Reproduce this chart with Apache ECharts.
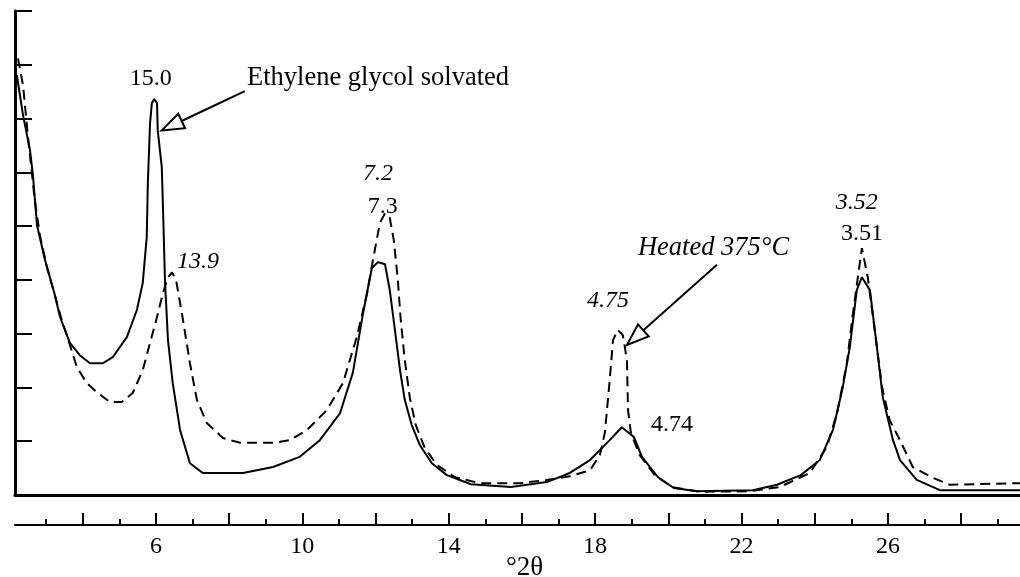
<!DOCTYPE html>
<html>
<head>
<meta charset="utf-8">
<script src="https://cdn.jsdelivr.net/npm/echarts@6/dist/echarts.min.js"></script>
<style>
html,body{margin:0;padding:0;background:#fff;}
#chart{width:1020px;height:577px;}
</style>
</head>
<body>
<div id="chart"></div>
<script>
// ---- Data (°2θ, relative intensity) ----
const solidName = 'Ethylene glycol solvated';
const dashedName = 'Heated 375°C';

const solidPoints = [
 [2.20,7.81],[2.37,7.06],[2.56,6.41],[2.64,5.95],[2.75,5.02],[2.97,4.37],[3.24,3.72],[3.38,3.31],
 [3.65,2.83],[3.92,2.60],[4.20,2.45],[4.55,2.45],[4.83,2.57],[5.21,2.94],[5.48,3.44],[5.64,3.94],
 [5.75,4.80],[5.78,5.80],[5.84,6.91],[5.89,7.29],[5.95,7.36],[6.03,7.29],[6.05,6.78],[6.16,6.10],
 [6.19,5.43],[6.25,3.94],[6.33,2.88],[6.46,2.08],[6.66,1.21],[6.93,0.59],[7.28,0.41],[8.38,0.41],
 [9.20,0.52],[9.93,0.71],[10.48,1.02],[11.03,1.52],[11.38,2.27],[11.66,3.38],[11.90,4.22],[12.07,4.33],
 [12.26,4.29],[12.39,3.81],[12.53,3.07],[12.67,2.32],[12.80,1.77],[12.99,1.30],[13.21,0.93],[13.54,0.59],
 [13.95,0.37],[14.61,0.20],[15.70,0.15],[16.68,0.24],[17.31,0.41],[17.86,0.65],[18.40,1.02],[18.73,1.26],
 [19.06,1.08],[19.28,0.71],[19.72,0.33],[20.15,0.13],[20.78,0.07],[22.31,0.09],[22.97,0.19],[23.62,0.37],
 [24.14,0.65],[24.50,1.21],[24.77,2.01],[24.96,2.75],[25.15,3.81],[25.29,4.05],[25.51,3.81],[25.70,2.75],
 [25.86,1.82],[26.14,1.02],[26.33,0.65],[26.79,0.28],[27.42,0.09],[29.61,0.09]
];

const dashedPoints = [
 [2.23,8.12],[2.37,7.62],[2.50,6.69],[2.69,5.48],[2.83,4.83],[3.02,4.24],[3.43,3.25],[3.65,2.79],
 [3.84,2.38],[4.11,2.08],[4.39,1.91],[4.74,1.73],[5.07,1.73],[5.37,1.90],[5.64,2.32],[5.84,2.83],
 [6.03,3.31],[6.19,3.75],[6.33,4.05],[6.44,4.14],[6.55,4.00],[6.71,3.38],[6.93,2.45],[7.12,1.77],
 [7.39,1.34],[7.83,1.06],[8.30,0.97],[9.20,0.97],[9.66,1.02],[10.13,1.21],[10.67,1.58],[11.11,2.08],
 [11.49,2.94],[11.77,3.75],[11.93,4.37],[12.12,5.06],[12.26,5.24],[12.39,5.15],[12.50,4.74],[12.61,4.00],
 [12.69,3.25],[12.80,2.51],[12.94,1.80],[13.10,1.30],[13.35,0.87],[13.68,0.56],[14.17,0.33],[14.85,0.22],
 [15.95,0.22],[16.68,0.28],[17.31,0.35],[17.86,0.46],[18.13,0.74],[18.27,1.17],[18.40,2.14],[18.49,2.88],
 [18.62,3.07],[18.76,2.97],[18.87,2.51],[18.90,1.58],[18.98,1.15],[19.22,0.74],[19.63,0.37],[20.10,0.15],
 [20.86,0.06],[22.23,0.07],[23.05,0.15],[23.87,0.41],[24.33,0.89],[24.61,1.52],[24.88,2.45],[25.02,3.25],
 [25.18,4.05],[25.29,4.59],[25.45,4.05],[25.64,3.07],[25.84,2.01],[26.05,1.39],[26.33,1.02],[26.68,0.52],
 [27.23,0.32],[27.69,0.19],[29.61,0.22]
];

// Peak d-spacing labels (Å)
const labelTexts  = ['15.0', '13.9', '7.2', '7.3', '4.75', '4.74', '3.52', '3.51'];
const labelX      = [5.86, 7.15, 12.07, 12.20, 18.35, 20.10, 25.15, 25.29];
const labelY      = [7.75, 4.33, 5.97, 5.37, 3.62, 1.30, 5.43, 4.85];
const labelItalic = [false, true, true, false, true, false, true, false];

// Series annotations
const noteTexts  = [solidName, dashedName];
const noteX      = [8.49, 19.17];
const noteY      = [7.75, 4.59];
const noteItalic = [false, true];

// Arrows: [from θ, from I, to θ, to I]
const arrows = [[8.43, 7.51, 6.16, 6.78], [21.33, 4.28, 18.87, 2.79]];

// Axis ticks
const xMin = 2.15, xMax = 29.61;
const majorTicks = [4, 6, 8, 10, 12, 14, 16, 18, 20, 22, 24, 26, 28];
const minorTicks = [3, 5, 7, 9, 11, 13, 15, 17, 19, 21, 23, 25, 27, 29];
const tickLabels = [6, 10, 14, 18, 22, 26];
const xTitle = '°2θ';

const FONT = 'Liberation Serif';

const chart = echarts.init(document.getElementById('chart'), null, {renderer: 'canvas'});

const labelData = labelTexts.map((t, i) => ({
  name: t, value: [labelX[i], labelY[i]],
  label: {fontStyle: labelItalic[i] ? 'italic' : 'normal'}
}));
const noteData = noteTexts.map((t, i) => ({
  name: t, value: [noteX[i], noteY[i]],
  label: {fontStyle: noteItalic[i] ? 'italic' : 'normal'}
}));

const baseAxis = {type: 'value', min: xMin, max: xMax, splitLine: {show: false}};

chart.setOption({
  animation: false,
  backgroundColor: '#fff',
  grid: {left: 15, right: 0, top: 11, bottom: 82, containLabel: false, outerBoundsMode: 'none'},
  xAxis: [
    Object.assign({}, baseAxis, {
      position: 'bottom',
      axisLine: {show: true, onZero: false, lineStyle: {color: '#000', width: 3}},
      axisTick: {show: false}, axisLabel: {show: false}
    }),
    Object.assign({}, baseAxis, {
      position: 'bottom', offset: 30,
      name: xTitle, nameLocation: 'middle', nameGap: 29, nameMoveOverlap: false,
      nameTextStyle: {fontFamily: FONT, fontSize: 27, color: '#000', padding: [0, 0, 0, 14]},
      axisLine: {show: true, onZero: false, lineStyle: {color: '#000', width: 2}},
      axisTick: {show: true, inside: true, length: 12, lineStyle: {color: '#000', width: 2}, customValues: majorTicks},
      axisLabel: {show: true, margin: 10, fontFamily: FONT, fontSize: 24, color: '#000', customValues: tickLabels}
    }),
    Object.assign({}, baseAxis, {
      position: 'bottom', offset: 30,
      axisLine: {show: false, onZero: false},
      axisTick: {show: true, inside: true, length: 6, lineStyle: {color: '#000', width: 2}, customValues: minorTicks},
      axisLabel: {show: false}
    })
  ],
  yAxis: {
    type: 'value', min: 0, max: 9, interval: 1,
    axisLine: {show: true, lineStyle: {color: '#000', width: 3}},
    axisTick: {show: true, inside: true, length: 17, lineStyle: {color: '#000', width: 2}},
    axisLabel: {show: false},
    splitLine: {show: false}
  },
  series: [
    {
      name: solidName, type: 'line', xAxisIndex: 0, data: solidPoints,
      showSymbol: false, smooth: false,
      lineStyle: {color: '#000', width: 2, type: 'solid'}, z: 3
    },
    {
      name: dashedName, type: 'line', xAxisIndex: 0, data: dashedPoints,
      showSymbol: false, smooth: false,
      lineStyle: {color: '#000', width: 2, type: [10, 6]}, z: 3
    },
    {
      type: 'scatter', xAxisIndex: 0, data: labelData, symbolSize: 0,
      itemStyle: {color: 'transparent'}, silent: true,
      label: {show: true, position: 'inside', formatter: '{b}', color: '#000', opacity: 1,
        textBorderWidth: 0, fontFamily: FONT, fontSize: 24, align: 'center', verticalAlign: 'middle'}
    },
    {
      type: 'scatter', xAxisIndex: 0, data: noteData, symbolSize: 0,
      itemStyle: {color: 'transparent'}, silent: true,
      label: {show: true, position: 'inside', formatter: '{b}', color: '#000', opacity: 1,
        textBorderWidth: 0, fontFamily: FONT, fontSize: 26.5, align: 'left', verticalAlign: 'middle'}
    },
    {
      type: 'custom', xAxisIndex: 0, data: arrows, silent: true, clip: false, z: 5,
      renderItem: function (params, api) {
        const p0 = api.coord([api.value(0), api.value(1)]);
        const p1 = api.coord([api.value(2), api.value(3)]);
        const dx = p1[0] - p0[0], dy = p1[1] - p0[1];
        const len = Math.sqrt(dx * dx + dy * dy);
        const ux = dx / len, uy = dy / len;
        const headLen = 22, half = 8;
        const bx = p1[0] - ux * headLen, by = p1[1] - uy * headLen;
        const nx = -uy, ny = ux;
        return {
          type: 'group',
          children: [
            {type: 'line', shape: {x1: p0[0], y1: p0[1], x2: bx, y2: by},
              style: {stroke: '#000', lineWidth: 2}},
            {type: 'polygon', shape: {points: [[p1[0], p1[1]], [bx + nx * half, by + ny * half], [bx - nx * half, by - ny * half]]},
              style: {fill: '#fff', stroke: '#000', lineWidth: 2}}
          ]
        };
      }
    }
  ]
});
</script>
</body>
</html>
